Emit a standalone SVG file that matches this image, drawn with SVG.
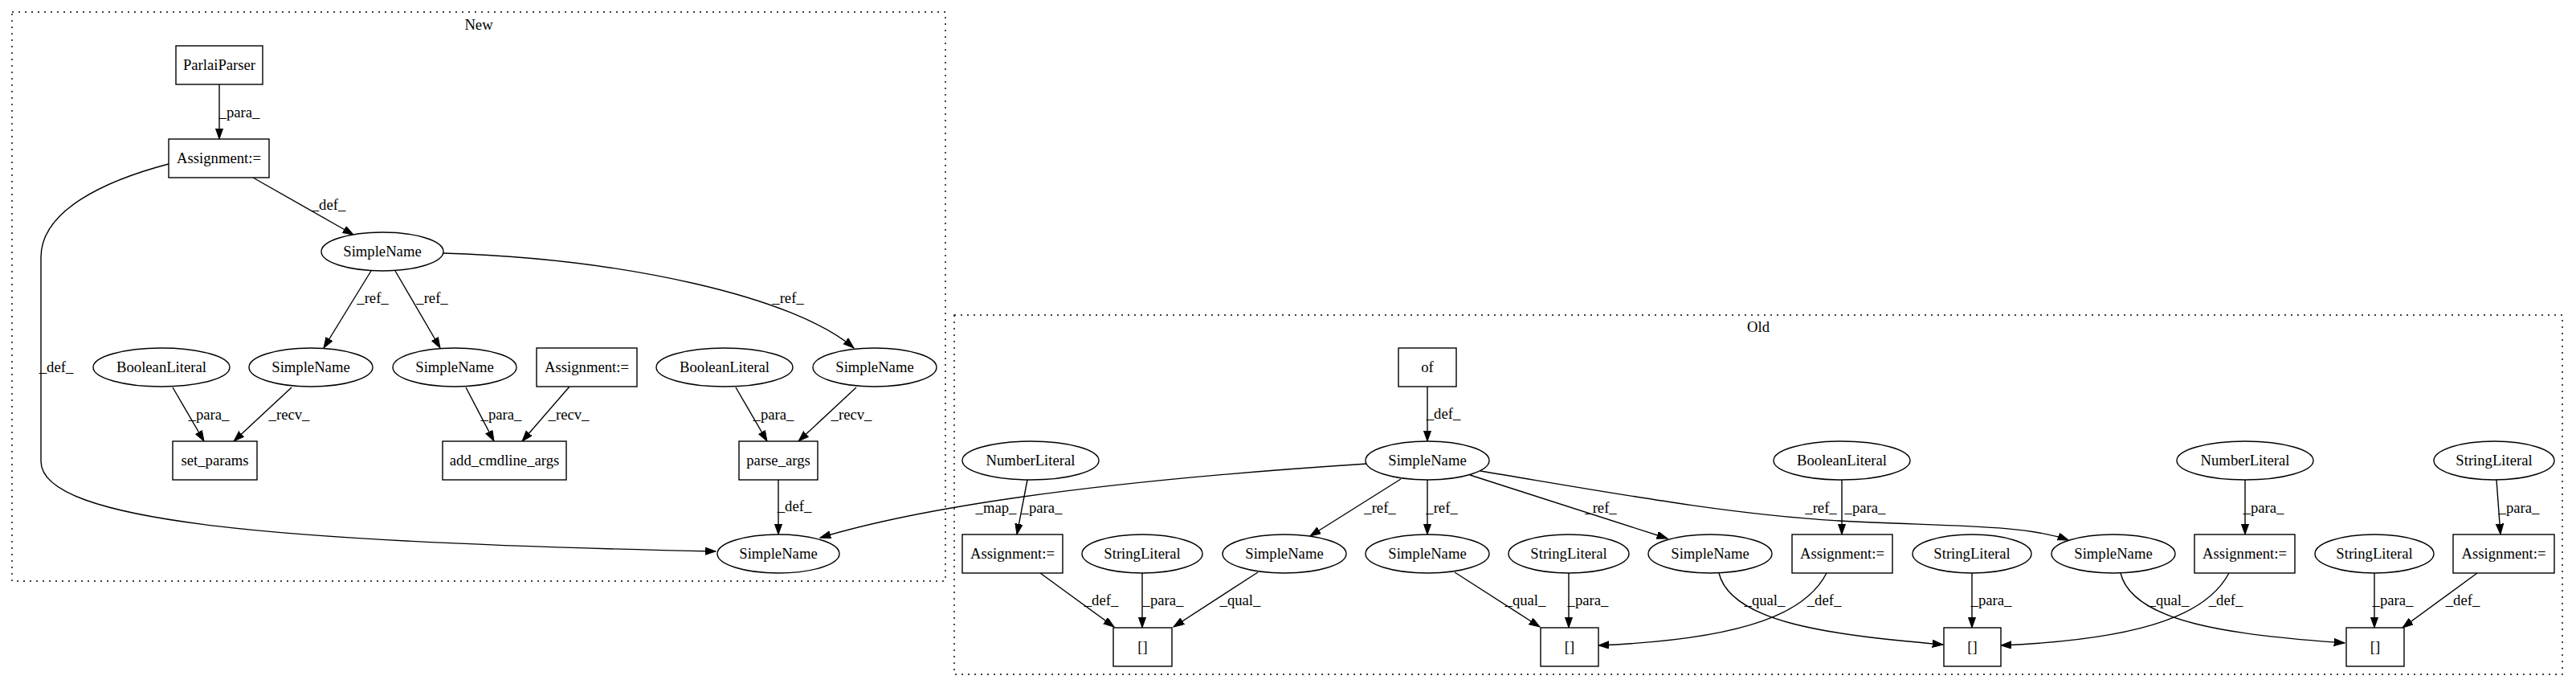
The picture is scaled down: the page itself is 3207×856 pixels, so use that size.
<svg xmlns="http://www.w3.org/2000/svg" width="3207" height="856" viewBox="0 0 3207 856">
<style>
text{font-family:"Liberation Serif","Times New Roman",serif;font-size:18.67px;fill:#000;text-anchor:middle}
.n rect,.n ellipse{fill:#fff;stroke:#000;stroke-width:1.4}
.cl{fill:none;stroke:#000;stroke-width:1.4;stroke-dasharray:2,6}
.e path{fill:none;stroke:#000;stroke-width:1.4;marker-end:url(#ah)}
</style>
<defs>
<marker id="ah" markerUnits="userSpaceOnUse" markerWidth="15" markerHeight="11" refX="13.3" refY="4.67" orient="auto">
<path d="M0,0 L13.3,4.67 L0,9.33 z" fill="#000" stroke="#000" stroke-width="1"/>
</marker>
</defs>
<rect width="3207" height="856" fill="#fff"/>
<g id="cluster_new"><rect class="cl" x="15" y="15" width="1162" height="708"/><text x="596" y="37">New</text></g>
<g id="cluster_old"><rect class="cl" x="1188" y="392" width="2002" height="447"/><text x="2189" y="413">Old</text></g>

<g id="connectors" class="e">
<path d="M273,105 L273,173"/>
<path d="M315,221 L440,292"/>
<path d="M210,204 C130,225 51,262 51,320 L51,574 C51,650 350,675 891,686"/>
<path d="M462,337 L403,433"/>
<path d="M492,337 L548,433"/>
<path d="M552,315 C780,322 990,370 1063,433"/>
<path d="M215,482 L254,549"/>
<path d="M363,482 L291,549"/>
<path d="M580,482 L615,549"/>
<path d="M709,481 L650,549"/>
<path d="M916,482 L955,549"/>
<path d="M1066,482 L994,549"/>
<path d="M969,597 L969,665"/>
<path d="M1777,481 L1777,549"/>
<path d="M1702,577 C1500,590 1200,615 1021,669"/>
<path d="M1279,597 L1266,665"/>
<path d="M1744,596 L1631,667"/>
<path d="M1777,597 L1777,665"/>
<path d="M1830,591 L2076,670"/>
<path d="M1843,586 C2000,612 2150,640 2290,648 C2420,655 2520,652 2575,672"/>
<path d="M1295,713 L1387,780"/>
<path d="M1422,713 L1422,781"/>
<path d="M1566,712 L1461,780"/>
<path d="M1811,712 L1917,780"/>
<path d="M1953,713 L1953,781"/>
<path d="M2274,713 C2250,760 2180,795 1990,803"/>
<path d="M2293,597 L2293,665"/>
<path d="M2140,713 C2155,775 2280,790 2419,802"/>
<path d="M2455,713 L2455,781"/>
<path d="M2775,713 C2750,760 2680,795 2491,803"/>
<path d="M2795,597 L2795,665"/>
<path d="M2640,713 C2655,775 2780,790 2919,800"/>
<path d="M2956,713 L2956,781"/>
<path d="M3084,713 L2991,781"/>
<path d="M3108,597 L3113,665"/>
<text x="298" y="146">_para_</text>
<text x="409" y="261">_def_</text>
<text x="70" y="463">_def_</text>
<text x="464" y="377">_ref_</text>
<text x="538" y="377">_ref_</text>
<text x="981" y="377">_ref_</text>
<text x="260" y="522">_para_</text>
<text x="360" y="522">_recv_</text>
<text x="624" y="522">_para_</text>
<text x="708" y="522">_recv_</text>
<text x="963" y="522">_para_</text>
<text x="1060" y="522">_recv_</text>
<text x="989" y="636">_def_</text>
<text x="1797" y="521">_def_</text>
<text x="1240" y="638">_map_</text>
<text x="1297" y="638">_para_</text>
<text x="1718" y="638">_ref_</text>
<text x="1795" y="638">_ref_</text>
<text x="1993" y="638">_ref_</text>
<text x="2267" y="638">_ref_</text>
<text x="2322" y="638">_para_</text>
<text x="2818" y="638">_para_</text>
<text x="3136" y="638">_para_</text>
<text x="1371" y="753">_def_</text>
<text x="1448" y="753">_para_</text>
<text x="1544" y="753">_qual_</text>
<text x="1899" y="753">_qual_</text>
<text x="1977" y="753">_para_</text>
<text x="2197" y="753">_qual_</text>
<text x="2271" y="753">_def_</text>
<text x="2479" y="753">_para_</text>
<text x="2700" y="753">_qual_</text>
<text x="2771" y="753">_def_</text>
<text x="2979" y="753">_para_</text>
<text x="3066" y="753">_def_</text>
</g>

<g id="n_parlai" class="n"><rect x="219" y="57" width="108" height="48"/><text x="273" y="87">ParlaiParser</text></g>
<g id="n_assign_new" class="n"><rect x="210" y="173" width="125" height="48"/><text x="272.5" y="203">Assignment:=</text></g>
<g id="n_sn_def" class="n"><ellipse cx="476" cy="313" rx="76" ry="24"/><text x="476" y="319">SimpleName</text></g>
<g id="n_bool1" class="n"><ellipse cx="201" cy="457" rx="85" ry="24"/><text x="201" y="463">BooleanLiteral</text></g>
<g id="n_sn_set" class="n"><ellipse cx="387" cy="457" rx="77" ry="24"/><text x="387" y="463">SimpleName</text></g>
<g id="n_sn_add" class="n"><ellipse cx="566" cy="457" rx="77" ry="24"/><text x="566" y="463">SimpleName</text></g>
<g id="n_assign_recv" class="n"><rect x="668" y="433" width="125" height="48"/><text x="730.5" y="463">Assignment:=</text></g>
<g id="n_bool2" class="n"><ellipse cx="902" cy="457" rx="85" ry="24"/><text x="902" y="463">BooleanLiteral</text></g>
<g id="n_sn_parse" class="n"><ellipse cx="1089" cy="457" rx="77" ry="24"/><text x="1089" y="463">SimpleName</text></g>
<g id="n_set_params" class="n"><rect x="215" y="549" width="105" height="48"/><text x="267.5" y="579">set_params</text></g>
<g id="n_add_cmdline" class="n"><rect x="551" y="549" width="154" height="48"/><text x="628" y="579">add_cmdline_args</text></g>
<g id="n_parse_args" class="n"><rect x="920" y="549" width="98" height="48"/><text x="969" y="579">parse_args</text></g>
<g id="n_sn_out" class="n"><ellipse cx="969" cy="689" rx="76" ry="24"/><text x="969" y="695">SimpleName</text></g>

<g id="o_of" class="n"><rect x="1741" y="433" width="72" height="48"/><text x="1777" y="463">of</text></g>
<g id="o_sn_main" class="n"><ellipse cx="1777" cy="573" rx="77" ry="24"/><text x="1777" y="579">SimpleName</text></g>
<g id="o_num1" class="n"><ellipse cx="1283" cy="573" rx="85" ry="24"/><text x="1283" y="579">NumberLiteral</text></g>
<g id="o_bool" class="n"><ellipse cx="2293" cy="573" rx="85" ry="24"/><text x="2293" y="579">BooleanLiteral</text></g>
<g id="o_num2" class="n"><ellipse cx="2795" cy="573" rx="85" ry="24"/><text x="2795" y="579">NumberLiteral</text></g>
<g id="o_str_top" class="n"><ellipse cx="3105" cy="573" rx="75" ry="24"/><text x="3105" y="579">StringLiteral</text></g>
<g id="o_assign1" class="n"><rect x="1198" y="665" width="125" height="48"/><text x="1260.5" y="695">Assignment:=</text></g>
<g id="o_str1" class="n"><ellipse cx="1422" cy="689" rx="75" ry="24"/><text x="1422" y="695">StringLiteral</text></g>
<g id="o_sn1" class="n"><ellipse cx="1599" cy="689" rx="77" ry="24"/><text x="1599" y="695">SimpleName</text></g>
<g id="o_sn2" class="n"><ellipse cx="1777" cy="689" rx="77" ry="24"/><text x="1777" y="695">SimpleName</text></g>
<g id="o_str2" class="n"><ellipse cx="1953" cy="689" rx="75" ry="24"/><text x="1953" y="695">StringLiteral</text></g>
<g id="o_sn3" class="n"><ellipse cx="2129" cy="689" rx="77" ry="24"/><text x="2129" y="695">SimpleName</text></g>
<g id="o_assign2" class="n"><rect x="2231" y="665" width="125" height="48"/><text x="2293.5" y="695">Assignment:=</text></g>
<g id="o_str3" class="n"><ellipse cx="2455" cy="689" rx="74" ry="24"/><text x="2455" y="695">StringLiteral</text></g>
<g id="o_sn4" class="n"><ellipse cx="2631" cy="689" rx="77" ry="24"/><text x="2631" y="695">SimpleName</text></g>
<g id="o_assign3" class="n"><rect x="2732" y="665" width="125" height="48"/><text x="2794.5" y="695">Assignment:=</text></g>
<g id="o_str4" class="n"><ellipse cx="2956" cy="689" rx="74" ry="24"/><text x="2956" y="695">StringLiteral</text></g>
<g id="o_assign4" class="n"><rect x="3054" y="665" width="126" height="48"/><text x="3117" y="695">Assignment:=</text></g>
<g id="o_idx1" class="n"><rect x="1386" y="781" width="73" height="48"/><text x="1422.5" y="811">[]</text></g>
<g id="o_idx2" class="n"><rect x="1918" y="781" width="72" height="48"/><text x="1954" y="811">[]</text></g>
<g id="o_idx3" class="n"><rect x="2420" y="781" width="71" height="48"/><text x="2455.5" y="811">[]</text></g>
<g id="o_idx4" class="n"><rect x="2921" y="781" width="72" height="48"/><text x="2957" y="811">[]</text></g>
</svg>
